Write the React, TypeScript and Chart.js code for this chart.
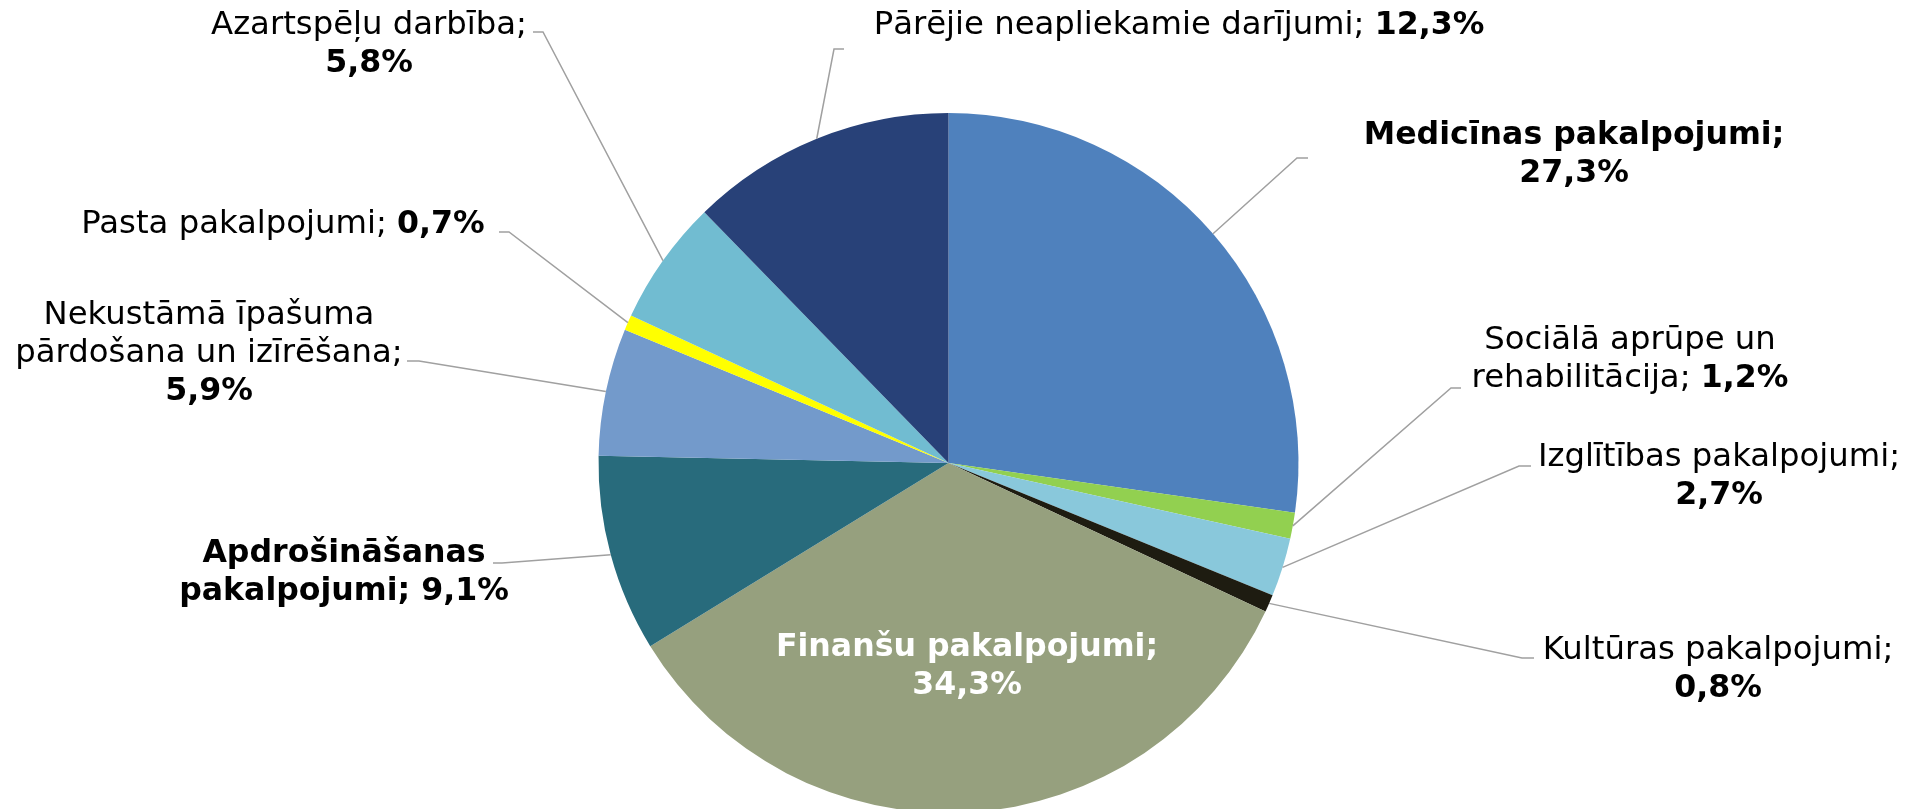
import React, { useEffect, useRef } from "react";
import { Chart, registerables } from "chart.js";

Chart.register(...registerables);

const categories = [
  "Medicīnas pakalpojumi",
  "Sociālā aprūpe un rehabilitācija",
  "Izglītības pakalpojumi",
  "Kultūras pakalpojumi",
  "Finanšu pakalpojumi",
  "Apdrošināšanas pakalpojumi",
  "Nekustāmā īpašuma pārdošana un izīrēšana",
  "Pasta pakalpojumi",
  "Azartspēļu darbība",
  "Pārējie neapliekamie darījumi",
];

const values = [27.3, 1.2, 2.7, 0.8, 34.3, 9.1, 5.9, 0.7, 5.8, 12.3];

const colors = [
  "#4F81BD",
  "#92D050",
  "#89C8DB",
  "#1E1C11",
  "#96A07E",
  "#286B7C",
  "#739ACB",
  "#FFFF00",
  "#71BCD1",
  "#284178",
];

// label text templates: **bold**, \n line break, {v} = value
const labelTemplates = [
  "**Medicīnas pakalpojumi;**\n**{v}**",
  "Sociālā aprūpe un\nrehabilitācija; **{v}**",
  "Izglītības pakalpojumi;\n**{v}**",
  "Kultūras pakalpojumi;\n**{v}**",
  "**Finanšu pakalpojumi;**\n**{v}**",
  "**Apdrošināšanas**\n**pakalpojumi; {v}**",
  "Nekustāmā īpašuma\npārdošana un izīrēšana;\n**{v}**",
  "Pasta pakalpojumi; **{v}**",
  "Azartspēļu darbība;\n**{v}**",
  "Pārējie neapliekamie darījumi; **{v}**",
];

// label layout: [centerX, firstLineY, elbowX, elbowY, endX] (endX null => no leader)
const labelLayout: Array<[number, number, number | null, number | null, number | null]> = [
  [1574, 136, 1297, 158, 1308],
  [1630, 341, 1451, 388, 1461],
  [1719, 458, 1519, 466, 1531],
  [1718, 651, 1522, 658, 1534],
  [967, 648, null, null, null],
  [344, 554, 502, 563, 493],
  [209, 316, 419, 361, 407],
  [283, 225, 509, 232, 499],
  [369, 26, 543, 32, 533],
  [1179, 26, 834, 49, 844],
];

const labelColors = ["#000", "#000", "#000", "#000", "#fff", "#000", "#000", "#000", "#000", "#000"];

const FONT_SIZE_REG = 32.3;
const FONT_SIZE_BOLD = 31.6;
const LINE_H = 38;
const FONT_FAMILY = "'DejaVu Sans', Verdana, sans-serif";

function fmt(v: number) {
  return v.toFixed(1).replace(".", ",") + "%";
}

function parseLine(line: string): Array<{ t: string; b: boolean }> {
  const parts = line.split("**");
  const runs: Array<{ t: string; b: boolean }> = [];
  parts.forEach((p, i) => {
    if (p.length) runs.push({ t: p, b: i % 2 === 1 });
  });
  return runs;
}

function fontFor(b: boolean) {
  return b ? `bold ${FONT_SIZE_BOLD}px ${FONT_FAMILY}` : `${FONT_SIZE_REG}px ${FONT_FAMILY}`;
}

const labelPlugin = {
  id: "pieLabels",
  afterDraw(chart: any) {
    const ctx = chart.ctx as CanvasRenderingContext2D;
    const meta = chart.getDatasetMeta(0);
    ctx.save();
    meta.data.forEach((arc: any, i: number) => {
      const lay = labelLayout[i];
      const [cx, cy, ex, ey, endX] = lay;
      if (endX !== null && ex !== null && ey !== null) {
        const p = arc.getProps(["x", "y", "startAngle", "endAngle", "outerRadius"], true);
        const mid = (p.startAngle + p.endAngle) / 2;
        const px = p.x + Math.cos(mid) * p.outerRadius;
        const py = p.y + Math.sin(mid) * p.outerRadius;
        ctx.beginPath();
        ctx.strokeStyle = "#A0A0A0";
        ctx.lineWidth = 1.5;
        ctx.moveTo(px, py);
        ctx.lineTo(ex, ey);
        ctx.lineTo(endX, ey);
        ctx.stroke();
      }
      const text = labelTemplates[i].replace("{v}", fmt(values[i]));
      const lines = text.split("\n");
      ctx.fillStyle = labelColors[i];
      ctx.textBaseline = "middle";
      ctx.textAlign = "left";
      lines.forEach((line, li) => {
        const runs = parseLine(line);
        let total = 0;
        const widths = runs.map((r) => {
          ctx.font = fontFor(r.b);
          const w = ctx.measureText(r.t).width;
          total += w;
          return w;
        });
        let x = cx - total / 2;
        const y = cy + li * LINE_H;
        runs.forEach((r, ri) => {
          ctx.font = fontFor(r.b);
          ctx.fillText(r.t, x, y);
          x += widths[ri];
        });
      });
    });
    ctx.restore();
  },
};

export default function App() {
  const ref = useRef<HTMLCanvasElement | null>(null);
  useEffect(() => {
    if (!ref.current) return;
    const chart = new Chart(ref.current, {
      type: "pie",
      data: {
        labels: categories,
        datasets: [
          {
            data: values,
            backgroundColor: colors,
            borderWidth: 0,
          },
        ],
      },
      options: {
        animation: false,
        responsive: true,
        maintainAspectRatio: false,
        layout: { padding: { top: 113, bottom: 115, left: 0, right: 16 } },
        plugins: {
          legend: { display: false },
          tooltip: { enabled: false },
        },
      },
      plugins: [labelPlugin],
    });
    return () => chart.destroy();
  }, []);
  return (
    <div
      style={{
        position: "fixed",
        left: 0,
        top: 0,
        width: 1913,
        height: 809,
        overflow: "hidden",
        background: "#fff",
      }}
    >
      <div style={{ position: "relative", width: 1913, height: 928 }}>
        <canvas ref={ref} />
      </div>
    </div>
  );
}
